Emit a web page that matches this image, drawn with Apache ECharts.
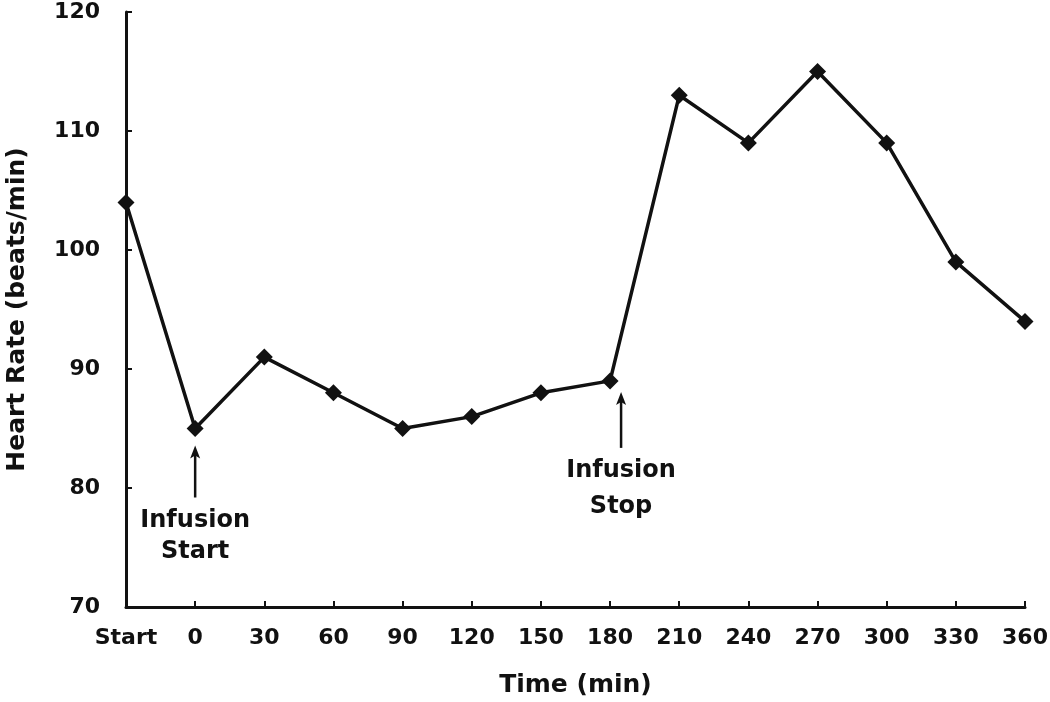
<!DOCTYPE html>
<html>
<head>
<meta charset="utf-8">
<script src="https://cdn.jsdelivr.net/npm/echarts@6/dist/echarts.min.js"></script>
<style>
  html, body { margin: 0; padding: 0; background: #fff; }
  #chart { width: 1050px; height: 702px; }
</style>
</head>
<body>
<div id="chart"></div>
<script>
// data
const timeLabels = ['Start', '0', '30', '60', '90', '120', '150', '180', '210', '240', '270', '300', '330', '360'];
const heartRate = [104, 85, 91, 88, 85, 86, 88, 89, 113, 109, 115, 109, 99, 94];
const yTicks = { min: 70, max: 120, interval: 10 };
const notes = [
    { idx: 1, lines: ['Infusion', 'Start'] },
    { idx: 7, lines: ['Infusion', 'Stop'] }
];

const font = 'DejaVu Sans, Arial, sans-serif';
const chart = echarts.init(document.getElementById('chart'));

chart.setOption({
    animation: false,
    grid: { left: 126, right: 25, top: 12, bottom: 95, outerBoundsMode: 'none' },
    xAxis: {
        type: 'category',
        data: timeLabels,
        boundaryGap: false,
        name: 'Time (min)',
        nameLocation: 'middle',
        nameGap: 66,
        nameTextStyle: { fontFamily: font, fontWeight: 'bold', fontSize: 25, color: '#111' },
        axisLine: { lineStyle: { color: '#111', width: 3 } },
        axisTick: {
            inside: true, length: 6, lineStyle: { color: '#111', width: 2 },
            interval: function (i) { return i > 0; }
        },
        axisLabel: { fontFamily: font, fontWeight: 'bold', fontSize: 22, color: '#111', margin: 20, interval: 0 },
        splitLine: { show: false }
    },
    yAxis: {
        type: 'value',
        min: yTicks.min,
        max: yTicks.max,
        interval: yTicks.interval,
        name: 'Heart Rate (beats/min)',
        nameLocation: 'middle',
        nameGap: 96,
        nameTextStyle: { fontFamily: font, fontWeight: 'bold', fontSize: 25, color: '#111' },
        axisLine: { show: true, lineStyle: { color: '#111', width: 3 } },
        axisTick: { show: true, inside: true, length: 6, lineStyle: { color: '#111', width: 2 } },
        axisLabel: { fontFamily: font, fontWeight: 'bold', fontSize: 22, color: '#111', margin: 26 },
        splitLine: { show: false }
    },
    series: [{
        type: 'line',
        data: heartRate,
        symbol: 'diamond',
        symbolSize: 17,
        lineStyle: { color: '#111', width: 3.5 },
        itemStyle: { color: '#111' }
    }]
});

// arrows + text under the two infusion points
function addNotes() {
    const els = [];
    notes.forEach(function (n, k) {
        const p = chart.convertToPixel({ seriesIndex: 0 }, [n.idx, heartRate[n.idx]]);
        const x = p[0] + (k === 0 ? 0 : 11);
        const top = p[1] + (k === 0 ? 17 : 11);
        const len = k === 0 ? 52 : 56;
        els.push({
            type: 'line',
            shape: { x1: x, y1: top + 6, x2: x, y2: top + len },
            style: { stroke: '#111', lineWidth: 2.5 }
        });
        els.push({
            type: 'polygon',
            shape: { points: [[x - 5, top + 13], [x, top], [x + 5, top + 13], [x, top + 10]] },
            style: { fill: '#111' }
        });
        els.push({
            type: 'text',
            x: x,
            y: top + len + (k === 0 ? 8 : 5),
            style: {
                text: n.lines.join('\n'),
                align: 'center',
                verticalAlign: 'top',
                font: 'bold 24px ' + font,
                lineHeight: k === 0 ? 31 : 36,
                fill: '#111'
            }
        });
    });
    chart.setOption({ graphic: els });
}
addNotes();
</script>
</body>
</html>
